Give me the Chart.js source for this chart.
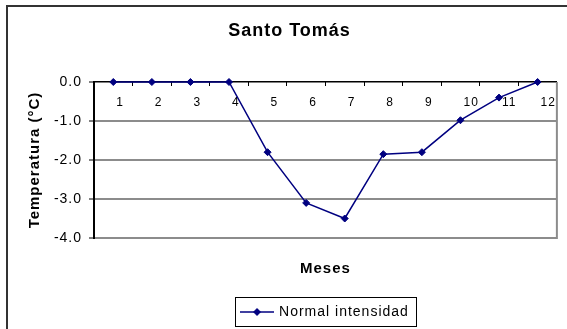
<!DOCTYPE html>
<html>
<head>
<meta charset="utf-8">
<script src="https://cdn.jsdelivr.net/npm/chart.js@4.4.1/dist/chart.umd.min.js"></script>
<style>
  html, body { margin: 0; padding: 0; background: #fff; }
  #chart { display: block; }
</style>
</head>
<body>
<canvas id="chart" width="567" height="329"></canvas>
<script>
// Monthly temperature anomaly, Santo Tomás
const months = ['1', '2', '3', '4', '5', '6', '7', '8', '9', '10', '11', '12'];
const normalIntensidad = [0, 0, 0, 0, -1.8, -3.1, -3.5, -1.85, -1.8, -0.98, -0.4, 0];
const yMin = -4;
const yMax = 0;
const yStep = 1;

const chartTitle = 'Santo Tomás';
const xTitle = 'Meses';
const yTitle = 'Temperatura (°C)';
const seriesName = 'Normal intensidad';

const NAVY = '#000080';
const FONT = "'Liberation Sans', Arial, sans-serif";

// Legend sample: a short line with a diamond marker in the middle
function legendSample() {
  const c = document.createElement('canvas');
  c.width = 34; c.height = 10;
  const g = c.getContext('2d');
  g.strokeStyle = NAVY; g.lineWidth = 1.5;
  g.beginPath(); g.moveTo(0, 5); g.lineTo(34, 5); g.stroke();
  g.fillStyle = NAVY;
  g.beginPath(); g.moveTo(17, 1); g.lineTo(21, 5); g.lineTo(17, 9); g.lineTo(13, 5); g.closePath(); g.fill();
  return c;
}
const sample = legendSample();

// Text spacing and outer frame
const framePlugin = {
  id: 'frame',
  beforeUpdate(chart) { chart.ctx.letterSpacing = '1px'; },
  beforeDraw(chart) {
    const ctx = chart.ctx;
    ctx.letterSpacing = '1px';
    ctx.save();
    ctx.fillStyle = '#fff';
    ctx.fillRect(0, 0, chart.width, chart.height);
    ctx.strokeStyle = '#333';
    ctx.lineWidth = 2;
    ctx.beginPath();
    ctx.moveTo(7, chart.height);
    ctx.lineTo(7, 6);
    ctx.lineTo(chart.width, 6);
    ctx.stroke();
    ctx.restore();
  },
  afterDraw(chart) {
    const ctx = chart.ctx;
    const a = chart.chartArea;
    ctx.save();
    // right edge of the plot area
    ctx.strokeStyle = '#8c8c8c';
    ctx.lineWidth = 2;
    ctx.beginPath();
    ctx.moveTo(a.right, a.top);
    ctx.lineTo(a.right, a.bottom + 1);
    ctx.stroke();
    // box around the legend
    const hb = chart.legend.legendHitBoxes[0];
    if (hb) {
      ctx.strokeStyle = '#000';
      ctx.lineWidth = 1;
      const l = Math.round(hb.left - 7.5) + 0.5;
      const r = Math.round(hb.left + hb.width + 7.5) + 0.5;
      const t = Math.round(hb.top - 8) + 0.5;
      const b = Math.round(hb.top + hb.height + 7) + 0.5;
      ctx.strokeRect(l, t, r - l, b - t);
    }
    ctx.restore();
  }
};

new Chart(document.getElementById('chart'), {
  type: 'line',
  data: {
    labels: months,
    datasets: [{
      label: seriesName,
      data: normalIntensidad,
      borderColor: NAVY,
      backgroundColor: NAVY,
      borderWidth: 1.5,
      pointStyle: 'rectRot',
      pointRadius: 3.5,
      pointBorderWidth: 1,
      pointBackgroundColor: NAVY,
      pointBorderColor: NAVY,
      tension: 0,
      clip: false
    }]
  },
  options: {
    responsive: false,
    animation: false,
    devicePixelRatio: 1,
    layout: { padding: { left: 18, right: 6, top: 0, bottom: 0 } },
    plugins: {
      title: {
        display: true,
        text: chartTitle,
        color: '#000',
        font: { family: FONT, size: 18, weight: 'bold' },
        padding: { top: 20.2, bottom: 36.2 }
      },
      legend: {
        position: 'bottom',
        fullSize: false,
        labels: {
          color: '#000',
          font: { family: FONT, size: 14 },
          usePointStyle: true,
          pointStyleWidth: 30,
          padding: 8,
          generateLabels(chart) {
            return chart.data.datasets.map((ds, i) => ({
              text: ds.label,
              pointStyle: sample,
              fillStyle: ds.borderColor,
              strokeStyle: ds.borderColor,
              lineWidth: 0,
              hidden: false,
              datasetIndex: i,
              fontColor: '#000'
            }));
          }
        }
      },
      tooltip: { enabled: false }
    },
    scales: {
      x: {
        type: 'category',
        position: 'top',
        offset: true,
        afterFit(scale) { scale.height = 4; },
        grid: {
          display: true,
          offset: true,
          drawOnChartArea: false,
          drawTicks: true,
          tickLength: -4,
          tickColor: '#000',
          tickWidth: 1
        },
        border: { display: true, color: '#000', width: 1.5 },
        ticks: {
          mirror: true,
          padding: 13.8,
          align: 'start',
          labelOffset: 3,
          autoSkip: false,
          maxRotation: 0,
          color: '#000',
          font: { family: FONT, size: 12 }
        }
      },
      x2: {
        type: 'category',
        position: 'bottom',
        afterFit(scale) { scale.height = 59; },
        grid: { display: false },
        border: { display: false },
        ticks: { display: false },
        title: {
          display: true,
          text: xTitle,
          color: '#000',
          font: { family: FONT, size: 15, weight: 'bold' },
          padding: { top: 0, bottom: 19 }
        }
      },
      y: {
        position: 'left',
        min: yMin,
        max: yMax,
        afterFit(scale) { scale.width = 76; },
        ticks: {
          stepSize: yStep,
          padding: 7,
          color: '#000',
          font: { family: FONT, size: 14 },
          callback: (v) => Number(v).toFixed(1)
        },
        grid: {
          color: (c) => (c.tick && c.tick.value === yMax ? 'rgba(0,0,0,0)' : '#8c8c8c'),
          lineWidth: 2,
          drawTicks: true,
          tickLength: 5,
          tickColor: '#000',
          tickWidth: 1
        },
        border: { display: true, color: '#000', width: 2 },
        title: {
          display: true,
          text: yTitle,
          color: '#000',
          font: { family: FONT, size: 15, weight: 'bold' },
          padding: { top: 8, bottom: 0 }
        }
      }
    }
  },
  plugins: [framePlugin]
});
</script>
</body>
</html>
